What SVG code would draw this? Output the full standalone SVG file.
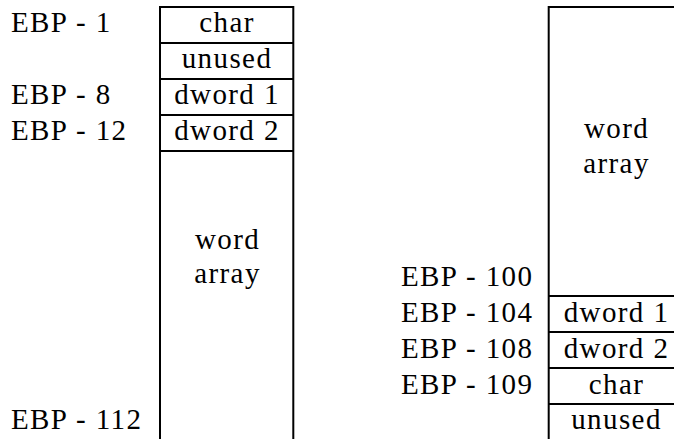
<svg xmlns="http://www.w3.org/2000/svg" width="674" height="439" viewBox="0 0 674 439">
<style>
  text { font-family: "Liberation Serif", "Times New Roman", serif; font-size: 29px; letter-spacing: 1.4px; fill: #000; }
  .c { text-anchor: middle; }
  .ln { stroke: #000; stroke-width: 2; fill: none; }
</style>
<rect x="0" y="0" width="674" height="439" fill="#fff"/>
<g id="left-stack">
  <path class="ln" d="M160,439 V7 H293.3 V439"/>
  <g id="left-char"><line class="ln" x1="160" y1="43" x2="293.3" y2="43"/><text class="c" x="227" y="32">char</text></g>
  <g id="left-unused"><line class="ln" x1="160" y1="79" x2="293.3" y2="79"/><text class="c" x="227" y="68">unused</text></g>
  <g id="left-dword1"><line class="ln" x1="160" y1="115" x2="293.3" y2="115"/><text class="c" x="227" y="104">dword 1</text></g>
  <g id="left-dword2"><line class="ln" x1="160" y1="151" x2="293.3" y2="151"/><text class="c" x="227" y="140">dword 2</text></g>
  <g id="left-array"><text class="c" x="227.5" y="249">word</text><text class="c" x="227.5" y="283">array</text></g>
</g>
<g id="left-labels">
  <text x="11" y="32">EBP - 1</text>
  <text x="11" y="104">EBP - 8</text>
  <text x="11" y="140">EBP - 12</text>
  <text x="11" y="429">EBP - 112</text>
</g>
<g id="right-stack">
  <path class="ln" d="M548.7,439 V7 H690"/>
  <g id="right-array"><text class="c" x="616.5" y="138">word</text><text class="c" x="616.5" y="173">array</text></g>
  <g id="right-dword1"><line class="ln" x1="548.7" y1="296" x2="690" y2="296"/><text class="c" x="616.5" y="321.5">dword 1</text></g>
  <g id="right-dword2"><line class="ln" x1="548.7" y1="332" x2="690" y2="332"/><text class="c" x="616.5" y="357.5">dword 2</text></g>
  <g id="right-char"><line class="ln" x1="548.7" y1="368" x2="690" y2="368"/><text class="c" x="616.5" y="393.5">char</text></g>
  <g id="right-unused"><line class="ln" x1="548.7" y1="404" x2="690" y2="404"/><text class="c" x="616.5" y="429">unused</text></g>
</g>
<g id="right-labels">
  <text x="401" y="286">EBP - 100</text>
  <text x="401" y="322">EBP - 104</text>
  <text x="401" y="358">EBP - 108</text>
  <text x="401" y="394">EBP - 109</text>
</g>
<g id="connectors"></g>
</svg>
